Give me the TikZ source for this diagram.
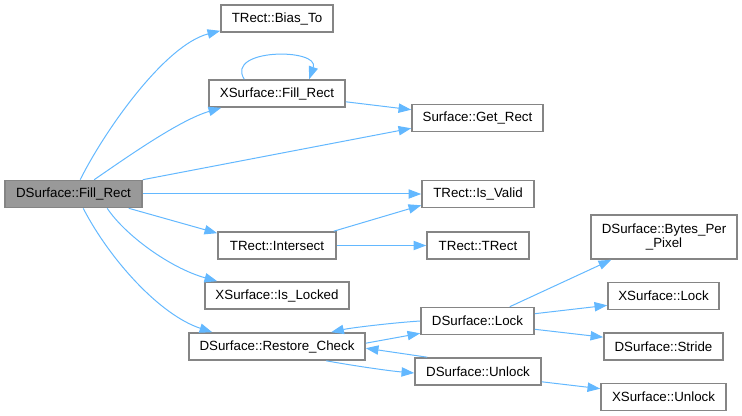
\documentclass[tikz,border=0pt]{standalone}
\usepackage{fontspec}
\setmainfont{Liberation Sans}
\usetikzlibrary{arrows.meta,calc}
\newlength\upx \setlength\upx{0.75pt}
\definecolor{edgeblue}{HTML}{63B8FF}
\definecolor{boxgray}{HTML}{858585}
\definecolor{rootfill}{HTML}{999999}
\begin{document}
\begin{tikzpicture}[x=0.75pt,y=-0.75pt,
 fn/.style={draw=boxgray, line width=1.2pt, fill=white, text=black,
   font=\fontsize{10pt}{11pt}\selectfont, inner sep=0pt,
   minimum height=20.25pt, align=center},
 call/.style={draw=edgeblue, line width=0.75pt,
   -{Triangle[length=9.5pt,width=7pt]}, fill=none},
]
\useasboundingbox (0,0) rectangle (742,416);

\node[fn, fill=rootfill, minimum width=137\upx] (root) at (73.5,194) {DSurface::Fill\_Rect};
\node[fn, minimum width=112\upx] (biasto) at (277,18.5) {TRect::Bias\_To};
\node[fn, minimum width=136\upx] (xfill) at (277,93.5) {XSurface::Fill\_Rect};
\node[fn, minimum width=131\upx] (getrect) at (477.5,118) {Surface::Get\_Rect};
\node[fn, minimum width=112\upx] (isvalid) at (478,194) {TRect::Is\_Valid};
\node[fn, minimum width=118\upx] (intersect) at (277,245.5) {TRect::Intersect};
\node[fn, minimum width=102\upx] (trect) at (478,245.5) {TRect::TRect};
\node[fn, minimum width=144\upx] (islocked) at (277,295.5) {XSurface::Is\_Locked};
\node[fn, minimum width=176\upx] (restore) at (277,346.5) {DSurface::Restore\_Check};
\node[fn, minimum width=113\upx] (dlock) at (477.5,321) {DSurface::Lock};
\node[fn, minimum width=126\upx] (dunlock) at (478,371.5) {DSurface::Unlock};
\node[fn, minimum width=146\upx, minimum height=44\upx] (bpp) at (664,237) {DSurface::Bytes\_Per\\\_Pixel};
\node[fn, minimum width=111\upx] (xlock) at (663.5,296) {XSurface::Lock};
\node[fn, minimum width=119\upx] (stride) at (663.5,346.5) {DSurface::Stride};
\node[fn, minimum width=125\upx] (xunlock) at (663.5,397) {XSurface::Unlock};

\draw[call] ($(root.north west)+(76,0)$) .. controls (105,130) and (165,45) .. ($(biasto.south west)+(0,-2)$);
\draw[call] ($(root.north west)+(90,0)$) .. controls (130,155) and (180,120) .. ($(xfill.south west)+(13,0)$);
\draw[call] (root.north east) -- ($(getrect.south west)+(0,-4)$);
\draw[call] (root.east) -- (isvalid.west);
\draw[call] ($(root.south east)+(-14,0)$) -- ($(intersect.north west)+(0,2)$);
\draw[call] ($(root.south west)+(103,0)$) .. controls (125,235) and (170,268) .. ($(islocked.north west)+(13,0)$);
\draw[call] ($(root.south west)+(79,0)$) .. controls (110,260) and (160,315) .. ($(restore.north west)+(24,0)$);
\draw[call] ($(xfill.north west)+(36,0)$) .. controls (225,48) and (320,48) .. ($(xfill.north west)+(101,0)$);
\draw[call] ($(xfill.south east)+(0,-6)$) -- ($(getrect.north west)+(0,6)$);
\draw[call] ($(intersect.north east)+(-3,0)$) -- ($(isvalid.south west)+(0,-3)$);
\draw[call] (intersect.east) -- (trect.west);
\draw[call] ($(restore.north east)+(0,11)$) -- ($(dlock.south west)+(0,-2)$);
\draw[call] (dlock.west) .. controls (390,323) and (350,328) .. ($(restore.north west)+(143,0)$);
\draw[call] ($(restore.south west)+(138,0)$) .. controls (355,366) and (390,371) .. ($(dunlock.west)+(0,1.5)$);
\draw[call] ($(dunlock.north west)+(13,0)$) -- ($(restore.north east)+(0,16)$);
\draw[call] ($(dlock.north east)+(-25,0)$) -- ($(bpp.south west)+(21,0)$);
\draw[call] ($(dlock.north east)+(0,7)$) -- ($(xlock.south west)+(0,-5)$);
\draw[call] ($(dlock.south east)+(0,-6)$) -- ($(stride.north west)+(0,5)$);
\draw[call] ($(dunlock.south east)+(0,-4)$) -- ($(xunlock.north west)+(0,6)$);
\end{tikzpicture}
\end{document}
